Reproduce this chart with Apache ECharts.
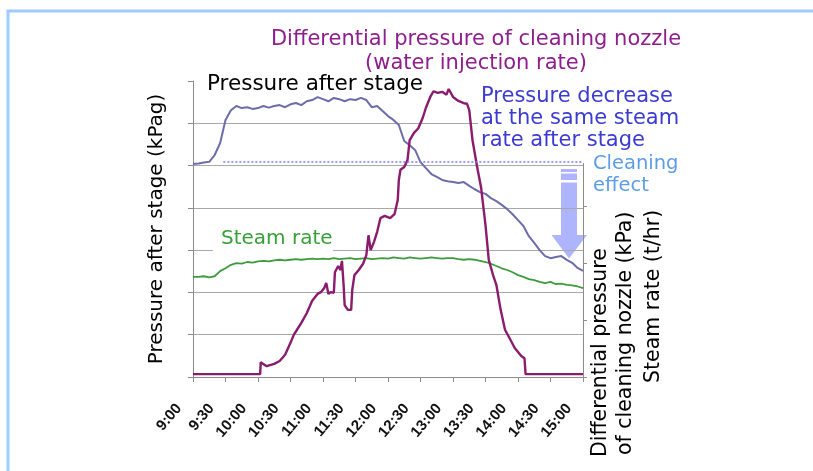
<!DOCTYPE html>
<html>
<head>
<meta charset="utf-8">
<script src="https://cdn.jsdelivr.net/npm/echarts@6/dist/echarts.min.js"></script>
<style>
  html, body { margin: 0; padding: 0; background: #fff; }
  #main { width: 813px; height: 471px; }
</style>
</head>
<body>
<div id="main"></div>
<script>
// minutes after 9:00, every 5 min
var times = [];
for (var m = 0; m <= 360; m += 5) times.push(m);
var tickLabels = ['9:00', '9:30', '10:00', '10:30', '11:00', '11:30', '12:00',
                  '12:30', '13:00', '13:30', '14:00', '14:30', '15:00'];

// pressure after stage (left axis, unlabelled scale)
var pressureAfterStage = [50.4, 50.5, 50.7, 50.9, 52.5, 55.3, 60.8, 63.1, 64.1, 63.6, 63.8, 63.4, 63.6, 64.1, 63.7,
  64.1, 64.3, 63.8, 64.5, 64.8, 64.3, 65.2, 65.5, 66.2, 65.7, 65.2, 66.0, 65.7, 65.2, 65.7, 65.5, 66.0, 65.5,
  63.8, 64.1, 62.9, 61.7, 60.8, 59.6, 55.8, 54.8, 53.7, 50.8, 49.4, 48.0, 47.3, 46.6, 46.3, 46.1, 45.9, 46.1,
  45.2, 44.4, 43.7, 43.3, 42.3, 41.6, 40.7, 39.7, 38.5, 37.1, 35.7, 33.3, 31.7, 30.0, 28.6, 28.1, 28.4, 28.6,
  27.7, 27.0, 25.8, 25.1];

// steam rate
var steamRate = [17.6, 17.6, 17.7, 17.5, 17.7, 18.6, 19.1, 19.7, 20.0, 19.9, 20.2, 20.1, 20.3, 20.4, 20.3,
  20.5, 20.6, 20.5, 20.6, 20.7, 20.6, 20.7, 20.8, 20.7, 20.8, 20.7, 20.9, 20.7, 20.8, 20.9, 20.7, 20.8, 20.9,
  20.7, 20.8, 20.9, 20.8, 21.0, 20.9, 20.8, 21.0, 20.9, 20.8, 20.9, 21.0, 20.9, 20.8, 20.9, 20.9, 20.7, 20.6,
  20.7, 20.6, 20.4, 20.2, 19.9, 19.5, 19.1, 18.8, 18.4, 17.9, 17.6, 17.2, 17.0, 16.7, 16.5, 16.7, 16.3, 16.4,
  16.2, 16.1, 15.9, 15.6];

// differential pressure of cleaning nozzle
var nozzleTimes = [0, 62, 62.5, 68, 75, 80, 85, 90, 93, 96, 100, 105, 110, 115, 118, 121, 123, 125, 127, 130,
  131, 134, 136, 137.5, 139, 140, 143, 146, 147, 149, 153, 157, 160, 162, 164, 167, 170, 173, 177, 182,
  186, 189, 190, 191.5, 195, 198, 200, 204, 208, 212, 215, 219, 222, 226, 230, 234, 236, 240, 245, 250,
  253, 255, 258, 262, 266, 270, 273, 277, 280, 284, 288, 292, 297, 303, 306, 307, 360];
var nozzleDp = [0.5, 0.5, 2.6, 1.9, 2.3, 2.8, 3.9, 6.0, 7.4, 8.3, 9.5, 11.2, 13.4, 14.6, 14.9, 15.6, 16.5, 14.6, 14.9, 14.8,
  18.4, 19.5, 18.8, 20.4, 16.2, 12.6, 11.8, 11.8, 15.3, 17.9, 18.8, 19.9, 21.4, 24.9, 22.3, 23.7, 25.5, 27.9, 28.3, 27.9,
  28.6, 31.1, 34.6, 36.4, 36.9, 38.1, 41.6, 42.9, 43.7, 45.5, 47.3, 49.2, 50.2, 49.9, 50.1, 49.6, 50.6, 49.2, 48.5, 48.1,
  48.0, 46.9, 41.6, 37.2, 33.2, 26.7, 20.6, 17.9, 16.2, 11.8, 8.3, 6.9, 5.1, 3.7, 3.3, 0.5, 0.5];

// reference level: pressure at start, same steam rate
var baselinePressure = 50.9;
var baselineFrom = 28;

function pairs(xs, ys) {
  return xs.map(function (x, i) { return [x, ys[i]]; });
}

var FONT = '"DejaVu Sans"';
function txt(x, y, text, size, color, extra) {
  var el = { type: 'text', z: 20, x: x, y: y, style: { text: text,
    font: size + 'px ' + FONT, fill: color, align: 'left', verticalAlign: 'middle' } };
  if (extra) {
    for (var k in extra) {
      if (k === 'align') el.style.align = extra[k]; else el[k] = extra[k];
    }
  }
  return el;
}

var myEcharts = echarts.init(document.getElementById('main'));
var option = {
  animation: false,
  backgroundColor: '#fff',
  grid: { left: 193, right: 230, top: 81, bottom: 94 },
  xAxis: {
    type: 'value', min: 0, max: 360, interval: 30,
    axisLine: { lineStyle: { color: '#8c8c8c' } },
    axisTick: { length: 5, lineStyle: { color: '#8c8c8c' } },
    splitLine: { show: false },
    axisLabel: {
      rotate: 50, margin: 12, padding: [0, 22, 0, 0],
      fontFamily: 'Liberation Sans', fontWeight: 'bold', fontSize: 15, color: '#111',
      formatter: function (v) { return tickLabels[Math.round(v / 30)]; }
    }
  },
  yAxis: [{
    type: 'value', min: 0, max: 70, interval: 10, position: 'left',
    name: 'Pressure after stage (kPag)', nameLocation: 'middle', nameGap: 26, nameRotate: 90,
    nameTextStyle: { fontFamily: 'DejaVu Sans', fontSize: 20, color: '#000' },
    axisLine: { show: true, lineStyle: { color: '#8c8c8c' } },
    axisTick: { show: true, length: 5, lineStyle: { color: '#8c8c8c' } },
    axisLabel: { show: false },
    splitLine: { show: true, showMaxLine: false, lineStyle: { color: '#a8a8a8' } }
  }, {
    type: 'value', min: 0, max: 52, interval: 10, position: 'right',
    axisLine: { show: true, lineStyle: { color: '#8c8c8c' } },
    axisTick: { show: true, length: 4, lineStyle: { color: '#8c8c8c' } },
    axisLabel: { show: false },
    splitLine: { show: false }
  }, {
    type: 'value', min: 0, max: 52, position: 'right', show: false,
    splitLine: { show: false }
  }],
  series: [{
    name: 'Steam rate', type: 'line', yAxisIndex: 2, symbol: 'none',
    data: pairs(times, steamRate),
    lineStyle: { color: '#3c9c3c', width: 1.8 }
  }, {
    name: 'Pressure after stage', type: 'line', yAxisIndex: 0, symbol: 'none',
    data: pairs(times, pressureAfterStage),
    lineStyle: { color: '#6c6caa', width: 2 },
    markLine: {
      silent: true, symbol: 'none', label: { show: false },
      lineStyle: { color: '#7a7aff', type: [2, 2], width: 1.5 },
      data: [[{ coord: [baselineFrom, baselinePressure] }, { coord: [360, baselinePressure] }]]
    }
  }, {
    name: 'Differential pressure', type: 'line', yAxisIndex: 1, symbol: 'none',
    data: pairs(nozzleTimes, nozzleDp),
    lineStyle: { color: '#8a1c6e', width: 2.4 }
  }],
  graphic: [
    // frame
    { type: 'polyline', z: 50, shape: { points: [[8, 471], [8, 11], [813, 11]] },
      style: { stroke: '#9fccff', lineWidth: 3, fill: null } },
    // white boxes behind labels (hide grid / axis)
    { type: 'rect', z: 1, shape: { x: 478, y: 76, width: 230, height: 87 }, style: { fill: '#fff' } },
    { type: 'rect', z: 1, shape: { x: 197, y: 70, width: 232, height: 21 }, style: { fill: '#fff' } },
    { type: 'rect', z: 1, shape: { x: 213, y: 226, width: 120, height: 27 }, style: { fill: '#fff' } },
    // title
    txt(476, 40, 'Differential pressure of cleaning nozzle', 21, '#8e1e8e', { align: 'center' }),
    txt(476, 64, '(water injection rate)', 21, '#8e1e8e', { align: 'center' }),
    txt(207, 84, 'Pressure after stage', 21.5, '#000'),
    txt(221, 239, 'Steam rate', 20, '#35a035'),
    txt(481, 97, 'Pressure decrease', 21, '#3b3bd2'),
    txt(481, 119, 'at the same steam', 21, '#3b3bd2'),
    txt(481, 141, 'rate after stage', 21, '#3b3bd2'),
    txt(593, 164, 'Cleaning', 19.5, '#5c9de6'),
    txt(593, 186, 'effect', 19.5, '#5c9de6'),
    // right axis titles
    txt(601, 457, 'Differential pressure', 20.5, '#000', { rotation: Math.PI / 2 }),
    txt(626, 455, 'of cleaning nozzle (kPa)', 20.5, '#000', { rotation: Math.PI / 2 }),
    txt(654, 383, 'Steam rate (t/hr)', 20.5, '#000', { rotation: Math.PI / 2 }),
    // cleaning effect arrow
    { type: 'group', z: 30, children: [
      { type: 'rect', shape: { x: 561, y: 169, width: 16, height: 3 }, style: { fill: 'rgba(110,120,250,0.55)' } },
      { type: 'rect', shape: { x: 561, y: 173.5, width: 16, height: 6.5 }, style: { fill: 'rgba(110,120,250,0.55)' } },
      { type: 'rect', shape: { x: 561, y: 182.5, width: 16, height: 52.5 }, style: { fill: 'rgba(110,120,250,0.55)' } },
      { type: 'polygon', shape: { points: [[551.5, 235], [587, 235], [569, 258.5]] },
        style: { fill: 'rgba(110,120,250,0.55)' } }
    ] }
  ]
};
myEcharts.setOption(option);
</script>
</body>
</html>
